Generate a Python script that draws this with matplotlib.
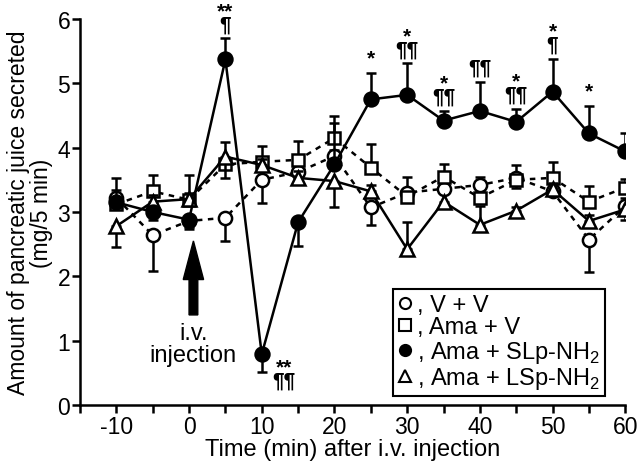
import numpy as np
import matplotlib
matplotlib.use('Agg')
import matplotlib.pyplot as plt
from matplotlib.lines import Line2D

plt.rcParams['font.family'] = ['Liberation Sans', 'DejaVu Sans']
plt.rcParams['axes.unicode_minus'] = False

# time points (min after i.v. injection)
t = [-10, -5, 0, 5, 10, 15, 20, 25, 30, 35, 40, 45, 50, 55, 60]

# V + V (open circles)
vv = [3.22, 2.64, 2.86, 2.91, 3.50, 3.62, 3.87, 3.07, 3.30, 3.36, 3.42, 3.53, 3.32, 2.57, 3.09]
vv_err = [0.12, 0.55, 0.10, 0.36, 0.36, 0.10, 0.10, 0.27, 0.25, 0.15, 0.12, 0.20, 0.10, 0.50, 0.12]
vv_up = [1, 0, 0, 0, 0, 1, 1, 0, 1, 1, 1, 1, 1, 0, 1]

# Ama + V (open squares)
av = [3.12, 3.32, 3.19, 3.74, 3.78, 3.81, 4.15, 3.69, 3.24, 3.55, 3.22, 3.50, 3.53, 3.16, 3.38]
av_err = [0.15, 0.26, 0.39, 0.34, 0.24, 0.29, 0.34, 0.36, 0.10, 0.19, 0.10, 0.12, 0.24, 0.24, 0.14]
av_up = [1, 1, 1, 1, 1, 1, 1, 1, 1, 1, 1, 0, 1, 1, 1]

# Ama + SLp-NH2 (closed circles)
sl = [3.15, 3.00, 2.88, 5.37, 0.79, 2.84, 3.74, 4.75, 4.82, 4.42, 4.57, 4.40, 4.87, 4.22, 3.94]
sl_err = [0.38, 0.12, 0.15, 0.33, 0.28, 0.37, 0.65, 0.41, 0.49, 0.15, 0.45, 0.20, 0.51, 0.43, 0.29]
sl_up = [1, 0, 0, 1, 0, 0, 1, 1, 1, 1, 1, 1, 1, 1, 1]
sl_star = ['', '', '', '**', '**', '', '', '*', '*', '*', '', '*', '*', '*', '']
sl_para = ['', '', '', '\u00b6', '\u00b6\u00b6', '', '', '', '\u00b6\u00b6', '\u00b6\u00b6',
           '\u00b6\u00b6', '\u00b6\u00b6', '\u00b6', '', '']

# Ama + LSp-NH2 (open triangles)
ls = [2.78, 3.16, 3.20, 3.86, 3.73, 3.53, 3.48, 3.32, 2.42, 3.16, 2.80, 3.02, 3.35, 2.86, 3.04]
ls_err = [0.32, 0.10, 0.10, 0.33, 0.10, 0.10, 0.41, 0.10, 0.42, 0.10, 0.29, 0.05, 0.10, 0.10, 0.16]
ls_up = [0, 1, 1, 0, 1, 1, 0, 1, 1, 0, 1, 1, 1, 1, 0]

labels = [', V + V', ', Ama + V', r', Ama + SLp-NH$_\mathregular{2}$', r', Ama + LSp-NH$_\mathregular{2}$']


def one_sided(err, up):
    err = np.array(err)
    up = np.array(up, dtype=bool)
    return [np.where(up, 0, err), np.where(up, err, 0)]


fig = plt.figure(figsize=(6.4, 4.64), dpi=100)
ax = fig.add_axes([0.125, 0.125, 0.852, 0.832])

lw = 1.8
common = dict(color='black', elinewidth=lw, capsize=3.5, capthick=lw, lw=lw, mew=1.8, mec='black')

ax.errorbar(t, vv, yerr=one_sided(vv_err, vv_up), fmt='o', ls=(0, (2.2, 2.2)), mfc='white', ms=9.5, zorder=3, **common)
ax.errorbar(t, av, yerr=one_sided(av_err, av_up), fmt='s', ls=(0, (2.2, 2.2)), mfc='white', ms=9, zorder=3, **common)
ax.errorbar(t, ls, yerr=one_sided(ls_err, ls_up), fmt='^', ls='-', mfc='white', ms=10.5, zorder=4, **common)
ax.errorbar(t, sl, yerr=one_sided(sl_err, sl_up), fmt='o', ls='-', mfc='black', ms=10, zorder=5, **common)

# significance marks for SLp-NH2 (one text per point)
for x, y, e, u, s, p in zip(t, sl, sl_err, sl_up, sl_star, sl_para):
    mark = '\n'.join(m for m in (s, p) if m)
    if not mark:
        continue
    if u:
        ax.text(x, y + e + 0.08, mark, ha='center', va='bottom', fontsize=15, fontweight='bold',
                linespacing=0.6, clip_on=False)
    else:
        ax.text(x + 3, y - 0.05, mark, ha='center', va='top', fontsize=15, fontweight='bold',
                linespacing=0.6)

# injection arrow
ax.arrow(0.6, 1.4, 0, 1.15, width=1.2, head_width=2.8, head_length=0.6,
         length_includes_head=True, fc='black', ec='black', zorder=6)
ax.text(0.6, 0.95, 'i.v.\ninjection', ha='center', va='center', fontsize=17, linespacing=1.0)

ax.set_xlim(-15, 60)
ax.set_ylim(0, 6)
ax.set_xticks(range(-10, 61, 10))
ax.set_xticks(range(-15, 61, 5), minor=True)
ax.set_yticks(range(0, 7))
ax.spines['top'].set_visible(False)
ax.spines['right'].set_visible(False)
for sp in ['left', 'bottom']:
    ax.spines[sp].set_linewidth(1.8)
ax.tick_params(which='both', direction='out', length=6, width=1.8, labelsize=16.5, pad=1)

ax.set_xlabel('Time (min) after i.v. injection', fontsize=17, labelpad=0.5)
ax.set_ylabel('Amount of pancreatic juice secreted\n(mg/5 min)', fontsize=16.5, labelpad=3, linespacing=1.0)

handles = [
    Line2D([], [], marker='o', ls='none', mfc='white', mec='black', ms=8, mew=1.5),
    Line2D([], [], marker='s', ls='none', mfc='white', mec='black', ms=8, mew=1.5),
    Line2D([], [], marker='o', ls='none', mfc='black', mec='black', ms=8, mew=1.5),
    Line2D([], [], marker='^', ls='none', mfc='white', mec='black', ms=8.5, mew=1.5),
]
leg = ax.legend(handles, labels, loc='lower right', bbox_to_anchor=(0.963, 0.023), fontsize=17,
                handlelength=0.6, handletextpad=0.2, labelspacing=0.02, borderpad=0.2,
                borderaxespad=0, fancybox=False, edgecolor='black', framealpha=1)
leg.get_frame().set_linewidth(1.5)

fig.savefig('out.png', dpi=100)
